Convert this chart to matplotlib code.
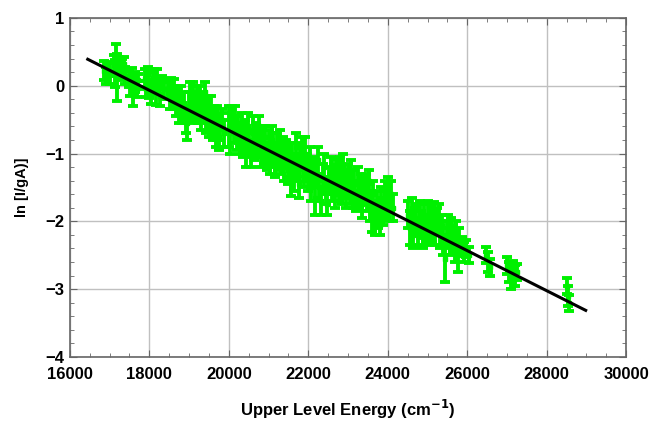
import numpy as np
import matplotlib
matplotlib.use("Agg")
from matplotlib import pyplot as plt
from matplotlib.ticker import MultipleLocator

# upper level energy (cm-1), ln(I/gA) and error
energy = [16870, 16920, 16960, 17000,
          17100, 17130, 17160, 17190, 17230, 17270, 17310, 17350, 17380,
          17480, 17520, 17560, 17600, 17640, 17680, 17720,
          17880, 17920, 17960, 18000, 18040, 18080, 18120, 18160, 18200, 18240, 18280, 18320, 18360,
          18470, 18510, 18550, 18590, 18630, 18670, 18710, 18750, 18790, 18830, 18870, 18910, 18950, 18990,
          19030, 19070, 19110, 19150, 19190, 19230, 19270, 19310, 19350, 19390, 19430, 19470, 19510, 19550,
          19590, 19630, 19670, 19710, 19750, 19790, 19830, 19870,
          20010, 20040, 20080, 20120, 20160, 20200, 20240, 20280, 20320, 20360, 20400, 20440, 20480, 20520,
          20560, 20600, 20640, 20680,
          20720, 20760, 20800, 20840, 20880, 20920, 20960, 21000, 21040, 21080, 21120, 21160, 21200, 21240, 21280,
          21320, 21360, 21400, 21440, 21480, 21520, 21560, 21600, 21640, 21680, 21720, 21760, 21800, 21840,
          21880, 21920, 21960,
          22000, 22040, 22080, 22120, 22160, 22200, 22240, 22280, 22320, 22360, 22400, 22440, 22480, 22520,
          22560, 22600, 22640, 22680, 22720, 22760, 22800, 22840, 22880, 22920, 22960,
          23000, 23040, 23080, 23120, 23160, 23200, 23240, 23280, 23320, 23360, 23400, 23440, 23480, 23520,
          23560, 23600, 23640, 23680, 23720, 23760, 23800, 23840, 23880, 23920, 23960, 24000, 24040, 24080, 24120,
          24520, 24560, 24600, 24640, 24680, 24720, 24760, 24800, 24840, 24880, 24920, 24960, 25000, 25040,
          25080, 25120, 25160, 25200, 25240, 25280, 25320, 25360, 25400, 25440, 25480, 25520, 25560, 25600,
          25640, 25680, 25720, 25760, 25800,
          25860, 25920, 25980, 26040,
          26480, 26530, 26580,
          27000, 27050, 27100, 27150, 27200, 27250,
          28520, 28540, 28560]

ln_iga = [0.22, 0.15, 0.25, 0.18,
          0.30, 0.18, 0.40, 0.12, 0.28, 0.20, 0.30, 0.32, 0.15,
          0.10, 0.00, 0.14, -0.10, 0.05, -0.05, 0.08,
          0.10, -0.05, 0.18, 0.02, -0.12, 0.05, 0.15, -0.08, 0.10, 0.00, -0.15, 0.05, -0.05,
          -0.05, -0.15, 0.00, -0.20, -0.10, -0.30, -0.15, -0.35, -0.20, -0.40, -0.30, -0.50, -0.55, -0.30,
          -0.15, -0.30, -0.10, -0.35, -0.20, -0.40, -0.15, -0.45, -0.30, -0.10, -0.50, -0.35, -0.55, -0.40,
          -0.60, -0.50, -0.70, -0.55, -0.75, -0.60, -0.50, -0.70,
          -0.60, -0.70, -0.45, -0.65, -0.50, -0.75, -0.60, -0.80, -0.55, -0.85, -0.70, -0.95, -0.60, -0.85,
          -1.00, -0.70, -0.90, -0.75,
          -0.85, -0.60, -1.00, -0.80, -0.95, -0.75, -1.05, -0.85, -1.10, -0.80, -0.95, -1.15, -0.90, -1.05, -0.85,
          -1.10, -0.95, -1.20, -1.00, -1.25, -1.10, -1.40, -1.05, -1.30, -0.90, -1.20, -1.45, -1.10, -0.95,
          -1.30, -1.00, -1.20,
          -1.35, -1.10, -1.50, -1.25, -1.65, -1.30, -1.10, -1.50, -1.70, -1.35, -1.20, -1.55, -1.75, -1.40,
          -1.25, -1.50, -1.35, -1.60, -1.30, -1.45, -1.25, -1.55, -1.20, -1.45, -1.60,
          -1.35, -1.55, -1.30, -1.60, -1.45, -1.70, -1.40, -1.60, -1.50, -1.75, -1.55, -1.45, -1.65, -1.40,
          -1.80, -1.95, -1.60, -2.00, -1.75, -1.90, -2.05, -1.70, -1.85, -1.60, -1.75, -1.55, -1.85, -1.60, -1.80,
          -1.90, -2.10, -1.85, -2.20, -2.00, -1.95, -2.15, -1.90, -2.05, -2.20, -1.95, -2.10, -1.90, -2.15,
          -1.95, -2.10, -1.90, -2.15, -2.00, -1.95, -2.20, -2.05, -2.30, -2.55, -2.20, -2.10, -2.30, -2.15,
          -2.25, -2.40, -2.20, -2.50, -2.30,
          -2.35, -2.45, -2.40, -2.50,
          -2.50, -2.60, -2.68,
          -2.65, -2.75, -2.85, -2.70, -2.80, -2.75,
          -2.95, -3.10, -3.20]

err = [0.14, 0.12, 0.10, 0.15,
       0.15, 0.20, 0.22, 0.35, 0.15, 0.12, 0.10, 0.10, 0.12,
       0.12, 0.15, 0.12, 0.20, 0.15, 0.12, 0.10,
       0.15, 0.12, 0.10, 0.20, 0.15, 0.15, 0.10, 0.20, 0.15, 0.12, 0.15, 0.10, 0.15,
       0.15, 0.20, 0.12, 0.15, 0.20, 0.15, 0.15, 0.20, 0.20, 0.15, 0.20, 0.20, 0.25, 0.20,
       0.20, 0.20, 0.15, 0.20, 0.20, 0.15, 0.15, 0.20, 0.20, 0.15, 0.20, 0.20, 0.20, 0.25,
       0.20, 0.20, 0.20, 0.25, 0.20, 0.20, 0.15, 0.20,
       0.30, 0.30, 0.15, 0.20, 0.20, 0.20, 0.15, 0.20, 0.15, 0.20, 0.20, 0.25, 0.20, 0.20,
       0.20, 0.25, 0.20, 0.20,
       0.20, 0.15, 0.20, 0.20, 0.20, 0.15, 0.20, 0.20, 0.20, 0.20, 0.25, 0.20, 0.20, 0.20, 0.20,
       0.20, 0.20, 0.20, 0.20, 0.20, 0.25, 0.22, 0.20, 0.25, 0.20, 0.20, 0.20, 0.25, 0.20,
       0.20, 0.25, 0.20,
       0.20, 0.20, 0.20, 0.20, 0.25, 0.20, 0.20, 0.20, 0.20, 0.20, 0.20, 0.20, 0.15, 0.20,
       0.20, 0.20, 0.20, 0.20, 0.20, 0.25, 0.20, 0.20, 0.20, 0.20, 0.20,
       0.20, 0.20, 0.20, 0.20, 0.20, 0.15, 0.20, 0.20, 0.20, 0.20, 0.20, 0.15, 0.20, 0.15,
       0.20, 0.20, 0.20, 0.20, 0.20, 0.20, 0.15, 0.20, 0.20, 0.20, 0.20, 0.20, 0.15, 0.20, 0.20,
       0.20, 0.25, 0.20, 0.20, 0.20, 0.20, 0.20, 0.20, 0.20, 0.20, 0.20, 0.20, 0.20, 0.20,
       0.20, 0.20, 0.18, 0.20, 0.20, 0.20, 0.20, 0.15, 0.20, 0.35, 0.20, 0.20, 0.20, 0.20,
       0.20, 0.20, 0.20, 0.25, 0.20,
       0.12, 0.15, 0.12, 0.12,
       0.12, 0.15, 0.12,
       0.12, 0.15, 0.15, 0.12, 0.15, 0.12,
       0.12, 0.15, 0.12]

# linear fit: ln(I/gA) = a + b*E
fit_a = 5.251
fit_b = -2.955e-4
fit_range = [16450, 28980]

plt.rcParams['font.family'] = ['Liberation Sans', 'DejaVu Sans']

fig = plt.figure(figsize=(6.53, 4.26), dpi=100)
ax = fig.add_axes([0.107, 0.162, 0.852, 0.796])

ax.errorbar(energy, ln_iga, yerr=err, fmt='s', color='#00f000', ms=3.5,
            ecolor='#00f000', elinewidth=2.8, capsize=3.5, capthick=2.8, zorder=2)

xf = np.array(fit_range)
ax.plot(xf, fit_a + fit_b * xf, color='black', lw=2.2, zorder=3)

ax.set_xlim(16000, 30000)
ax.set_ylim(-4, 1)
ax.xaxis.set_major_locator(MultipleLocator(2000))
ax.xaxis.set_minor_locator(MultipleLocator(500))
ax.yaxis.set_major_locator(MultipleLocator(1))
ax.yaxis.set_minor_locator(MultipleLocator(0.2))
ax.grid(True, which='major', color='#c0c0c0', lw=1, zorder=0)
ax.set_axisbelow(True)

ax.tick_params(which='both', direction='in', top=True, right=True,
               color='#666666', labelsize=12)
ax.tick_params(axis='x', pad=7)
ax.tick_params(axis='y', pad=4)
ax.tick_params(which='major', length=5)
ax.tick_params(which='minor', length=3)
for sp in ax.spines.values():
    sp.set_color('#666666')
    sp.set_linewidth(1.2)
for lab in ax.get_xticklabels() + ax.get_yticklabels():
    lab.set_fontweight('bold')

ax.set_xlabel('Upper Level Energy (cm$^{\\mathbf{-1}}$)', fontsize=12, fontweight='bold', labelpad=12)
ax.set_ylabel('ln [I/gA)]', fontsize=10.5, fontweight='bold', labelpad=12)

fig.savefig('out.png', dpi=100)
